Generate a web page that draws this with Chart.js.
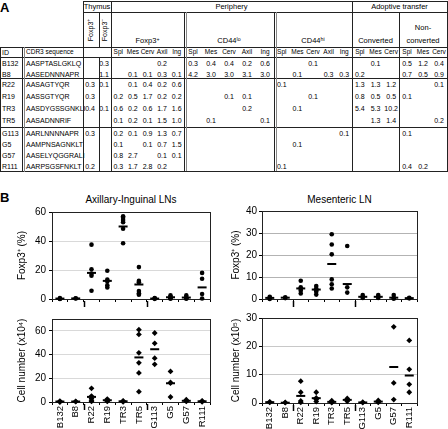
<!DOCTYPE html>
<html><head><meta charset="utf-8">
<script src="https://cdn.jsdelivr.net/npm/chart.js@4.4.1/dist/chart.umd.min.js"></script>
<style>
html,body{margin:0;padding:0;background:#fff;}
#root{position:relative;width:448px;height:429px;overflow:hidden;font-family:"Liberation Sans",Arial,Helvetica,sans-serif;color:#000;}
.t{position:absolute;white-space:nowrap;line-height:1;}
.t sup{font-size:0.7em;vertical-align:0.45em;line-height:0;}
.ln{position:absolute;background:#222;}
canvas{position:absolute;}
</style></head><body><div id="root"></div>
<script>
// ---------------- DATA ----------------
const clones = ['B132','B8','R22','R19','TR3','TR5','G113','G5','G57','R111'];
const cloneGroup = [1,1,2,2,2,2,3,3,3,3];
const cdr3 = ['AASPTASLGKLQ','AASEDNNNAPR','AASAGTYQR','AASSGTYQR','AASDYGSSGNKLI','AASADNNRIF','AARLNNNNAPR','AAMPNSAGNKLT','AASELYQGGRALI','AARPSGSFNKLT'];
const tissues5 = ['Spl','Mes','Cerv','Axil','Ing'];
const tissues3 = ['Spl','Mes','Cerv'];
const N = null;
const thymus = [[N,0.3],[N,1.1],[0.3,0.1],[0.3,N],[0.4,0.1],[N,N],[0.3,N],[N,N],[N,N],[0.2,N]];
const periphFoxp3 = [[N,N,N,0.2,N],[N,0.1,0.1,0.3,0.1],[N,0.1,0.4,0.2,0.6],[0.2,0.5,1.7,0.2,0.2],[0.6,0.2,0.6,1.7,1.6],[0.1,0.2,0.1,1.5,1.0],[0.2,0.1,0.9,1.3,0.7],[0.1,N,0.1,0.7,1.5],[0.8,2.7,N,0.1,0.1],[0.3,1.7,2.8,0.2,N]];
const periphCD44lo = [[0.3,0.4,0.4,0.2,0.6],[4.2,3.0,3.0,3.1,3.0],[N,N,N,N,N],[N,N,0.1,0.1,N],[N,N,N,0.2,N],[N,0.1,N,N,0.1],[N,N,N,N,N],[N,N,N,N,N],[N,N,N,N,N],[N,N,N,N,N]];
const periphCD44hi = [[N,N,0.1,N,N],[N,0.1,N,0.3,0.3],[0.1,N,N,N,N],[N,N,0.1,N,N],[N,0.1,N,N,N],[N,N,N,N,N],[N,N,N,N,0.1],[N,0.1,N,N,N],[N,N,N,N,N],[0.1,N,N,N,N]];
const converted = [[N,0.1,N],[0.2,N,N],[1.3,1.3,1.2],[0.8,0.5,0.5],[5.4,5.3,10.2],[N,1.3,1.4],[N,N,N],[N,N,N],[N,N,N],[N,N,N]];
const nonConverted = [[0.5,1.2,0.4],[0.7,0.5,0.9],[N,N,0.1],[0.1,N,N],[N,N,N],[N,N,0.2],[0.1,N,N],[N,N,N],[N,N,N],[0.4,0.2,N]];

// Panel B values (per clone)
const axFoxp3 = [[0.6,0.2,0],[0.5,0.3],[37.5,20.5,17.5,16,5.7],[19.5,13.5,12,9.5,8],[57,56,54.5,53,48.5,38.5],[22,12.5,11.5,5.5,4,3],[0.6,0.3,0.1],[2.5,1.5,0.5,0.2],[2.5,1.2,0.5,0.2],[18,14,3.5,0.3]];
const axFoxp3Mean = [0.3,0.4,18,12.5,50,10,0.3,1.2,1,8];
const axCells = [[0.8,0.3,0],[0.6,0.3],[11.5,5,3,1.5,0.5],[2.5,1.8,1,0.5],[1,0.5,0.2],[61,57,41.5,33,24.5,8.7],[58.2,49.5,37,31.8],[25.8,16.5,16,4.2],[2,1,0.5],[1,0.5,0.2]];
const axCellsMean = [0.4,0.4,4.3,1.5,0.6,37.6,44.5,15.8,1,0.6];
const mesFoxp3 = [[1,0.4,0],[0.8,0.4],[8.3,5.3,4.5,3.8,2.5],[5.9,4.8,4,3.3,2],[29.4,24.8,20.3,8.9,6.7,4.8],[24.1,5.3,2.9],[1.8,1,0.5],[1.8,1,0.5],[1.8,0.5,0.1],[0.6,0.3]];
const mesFoxp3Mean = [0.5,0.6,4.8,4.3,15.9,6.8,1,1,0.6,0.4];
const mesCells = [[0.4,0.2],[0.2,0.1],[7.7,3.8,0.7,0.2],[3.8,1.8,1.2,0.5],[0.8,0.3,0.1],[1.6,1.1,0.6],[0.3,0.1],[0.9,0.5,0.2],[26.9,7.1,1.2],[22.1,11.9,6.6,3.8]];
const mesCellsMean = [0.3,0.1,2.5,1.7,0.4,1.1,0.2,0.5,12.7,9.7];

// ---------------- PANEL A (table) ----------------
const root = document.getElementById('root');
function txt(x, y, html, opt = {}) {
  const d = document.createElement('div');
  d.className = 't';
  d.innerHTML = html;
  d.style.left = x + 'px';
  d.style.top = y + 'px';
  d.style.fontSize = (opt.size || 7) + 'px';
  if (opt.bold) d.style.fontWeight = 'bold';
  const tx = opt.align === 'left' ? '0' : '-50%';
  d.style.transform = `translate(${tx},-50%)` + (opt.rot ? ' rotate(-90deg)' : '');
  root.appendChild(d);
}
function line(x, y, w, h, c) {
  const d = document.createElement('div');
  d.className = 'ln';
  d.style.left = x + 'px'; d.style.top = y + 'px';
  d.style.width = w + 'px'; d.style.height = h + 'px';
  if (c) d.style.background = c;
  root.appendChild(d);
}
function split(a, b, n) { const w = (b - a) / n; return Array.from({length: n}, (_, i) => a + w * (i + 0.5)); }

const X = {L: 0, id: 22, thy: 83, thyMid: 99, per: 111, lo: 184, hi: 274, ad: 352, non: 399, R: 447};
const colThy = split(X.thy, X.per, 2);
const colPF = split(X.per, X.lo, 5);
const colLo = split(X.lo, X.hi, 5);
const colHi = split(X.hi, X.ad, 5);
const colConv = split(X.ad, X.non, 3);
const colNon = split(X.non, X.R, 3);

txt(0, 7, 'A', {align: 'left', size: 13, bold: true});
txt((X.thy + X.per) / 2, 6.5, 'Thymus', {size: 7.5});
txt((X.per + X.ad) / 2, 6.5, 'Periphery', {size: 7.5});
txt((X.ad + X.R) / 2, 6.5, 'Adoptive transfer', {size: 7.5});
txt(colThy[0], 30, 'Foxp3<sup>+</sup>', {rot: true});
txt(colThy[1], 30, 'Foxp3<sup>−</sup>', {rot: true});
txt((X.per + X.lo) / 2, 41, 'Foxp3<sup>+</sup>', {size: 7.5});
txt((X.lo + X.hi) / 2, 41, 'CD44<sup>lo</sup>', {size: 7.5});
txt((X.hi + X.ad) / 2, 41, 'CD44<sup>hi</sup>', {size: 7.5});
txt((X.ad + X.non) / 2, 41, 'Converted', {size: 7.5});
txt((X.non + X.R) / 2, 28, 'Non-', {size: 7.5});
txt((X.non + X.R) / 2, 41, 'converted', {size: 7.5});
txt(2, 52, 'ID', {align: 'left'});
txt(26, 52, 'CDR3 sequence', {align: 'left', size: 6.5});
[[colPF, tissues5], [colLo, tissues5], [colHi, tissues5], [colConv, tissues3], [colNon, tissues3]].forEach(([cols, names]) => {
  cols.forEach((cx, i) => txt(cx, 52, names[i], {size: 6.5}));
});

// row centres
const rowY = [];
(function () {
  const groupsTop = {1: 57, 2: 78, 3: 127};
  const groupStep = {1: 11, 2: 12, 3: 11};
  const count = {};
  cloneGroup.forEach((g) => {
    count[g] = (count[g] || 0);
    rowY.push(groupsTop[g] + 5.5 + count[g] * groupStep[g]);
    count[g]++;
  });
})();
const fmt = (v) => (v === null ? '' : v.toFixed(1));
clones.forEach((id, r) => {
  const y = rowY[r];
  txt(2, y, id, {align: 'left'});
  txt(26, y, cdr3[r], {align: 'left'});
  const blocks = [[colThy, thymus], [colPF, periphFoxp3], [colLo, periphCD44lo], [colHi, periphCD44hi], [colConv, converted], [colNon, nonConverted]];
  blocks.forEach(([cols, arr]) => {
    arr[r].forEach((v, i) => { if (v !== null) txt(cols[i], y, fmt(v)); });
  });
});

// table rules
const TB = 171;
line(X.thy, 1, X.R - X.thy + 1, 1);
line(X.thy, 12, X.R - X.thy + 1, 1);
line(X.L, 47, X.R - X.L + 1, 1);
line(X.L, 57, X.R - X.L + 1, 1);
line(X.L, 77.5, X.R - X.L + 1, 1.5);
line(X.L, 126.5, X.R - X.L + 1, 1.5);
line(X.L, TB, X.R - X.L + 1, 1);
line(X.L, 47, 1, TB - 47 + 1);
line(X.id, 47, 1, TB - 47 + 1); line(X.id + 2, 47, 1, TB - 47 + 1, '#888');
line(X.thy, 1, 1, TB);
line(X.thyMid, 12, 1, 35);
line(X.thyMid, 57, 1, TB - 57);
line(X.per, 1, 1, TB);
line(X.lo, 12, 1, TB - 12); line(X.lo + 2, 12, 1, TB - 12, '#888');
line(X.hi, 12, 1, TB - 12); line(X.hi + 2, 12, 1, TB - 12, '#888');
line(X.ad, 1, 1, TB);
line(X.non, 12, 1, TB - 12);
line(X.R, 1, 1, TB);

// ---------------- PANEL B (charts) ----------------
txt(0, 197, 'B', {align: 'left', size: 13, bold: true});
txt(131, 200, 'Axillary-Inguinal LNs', {size: 10});
txt(339.5, 200, 'Mesenteric LN', {size: 10});

const groupBreaks = [];
for (let i = 1; i < cloneGroup.length; i++) if (cloneGroup[i] !== cloneGroup[i - 1]) groupBreaks.push(i - 0.5);

const framePlugin = {
  id: 'frame',
  beforeDatasetsDraw(chart) {
    const {ctx, chartArea: a, scales: {x}} = chart;
    ctx.save();
    ctx.strokeStyle = '#222';
    ctx.lineWidth = 1;
    ctx.strokeRect(Math.round(a.left) + 0.5, Math.round(a.top) + 0.5, Math.round(a.right - a.left), Math.round(a.bottom - a.top));
    ctx.strokeStyle = '#000';
    ctx.lineWidth = 1.5;
    groupBreaks.forEach((b) => {
      const px = Math.round(x.getPixelForValue(b)) + 0.5;
      ctx.beginPath();
      ctx.moveTo(px, a.bottom + 2);
      ctx.lineTo(px, a.bottom + 8);
      ctx.stroke();
    });
    ctx.restore();
  }
};

function makeChart(cfg) {
  const c = document.createElement('canvas');
  c.width = cfg.w; c.height = cfg.h;
  c.style.left = cfg.left + 'px'; c.style.top = cfg.top + 'px';
  c.style.width = cfg.w + 'px'; c.style.height = cfg.h + 'px';
  root.appendChild(c);
  const pts = [];
  cfg.values.forEach((arr, i) => arr.forEach((v) => pts.push({x: clones[i], y: v})));
  const means = cfg.means.map((v, i) => ({x: clones[i], y: v}));
  new Chart(c, {
    type: 'line',
    data: {
      labels: clones,
      datasets: [
        {data: pts, showLine: false, pointStyle: cfg.marker, pointRadius: cfg.marker === 'circle' ? 2.3 : 2.9,
         backgroundColor: '#000', borderColor: '#000', borderWidth: 0, clip: false},
        {data: means, showLine: false, pointStyle: 'line', pointRadius: 4.5, borderColor: '#000', borderWidth: 2, clip: false}
      ]
    },
    options: {
      responsive: false, animation: false, devicePixelRatio: 1,
      layout: {autoPadding: false, padding: {top: cfg.padTop, right: cfg.padRight, bottom: 0, left: 0}},
      plugins: {legend: {display: false}, tooltip: {enabled: false}},
      scales: {
        x: {
          type: 'category', offset: true,
          grid: {display: true, drawOnChartArea: false, drawTicks: true, tickLength: 3, offset: true, color: '#000'},
          border: {display: true, color: '#000', width: 1},
          ticks: {display: cfg.xLabels, minRotation: 90, maxRotation: 90, autoSkip: false, padding: 1, color: '#000',
                  font: {family: '"Liberation Sans", Arial, sans-serif', size: 9.5}},
          afterFit(s) { s.height = cfg.xh; }
        },
        y: {
          min: 0, max: cfg.max,
          ticks: {stepSize: cfg.step, color: '#000', padding: cfg.tickPad, font: {family: '"Liberation Sans", Arial, sans-serif', size: 10}},
          afterBuildTicks(s) { s.ticks = s.ticks.filter((t) => Math.abs(t.value / cfg.step - Math.round(t.value / cfg.step)) < 1e-6); },
          grid: {color: cfg.gridColor, tickColor: '#000', tickLength: 3},
          border: {display: true, color: '#000', width: 1},
          title: {display: true, text: cfg.title, color: '#000', padding: {top: cfg.titlePad, bottom: 0},
                  font: {family: '"Liberation Sans", Arial, sans-serif', size: 10}},
          afterFit(s) { s.width = cfg.yw; }
        }
      }
    },
    plugins: [framePlugin]
  });
}

makeChart({left: 0, top: 203, w: 216, h: 110, padTop: 8, padRight: 6, xh: 14, yw: 52, max: 60, step: 20, tickPad: 3,
  values: axFoxp3, means: axFoxp3Mean, marker: 'circle', xLabels: false, gridColor: '#d9d9d9', title: 'Foxp3⁺ (%)', titlePad: 16});
makeChart({left: 0, top: 310, w: 216, h: 119, padTop: 3, padRight: 6, xh: 27, yw: 52, max: 70, step: 20, tickPad: 3,
  values: axCells, means: axCellsMean, marker: 'rectRot', xLabels: true, gridColor: '#d9d9d9', title: 'Cell number (x10⁴)', titlePad: 16});
makeChart({left: 224, top: 203, w: 224, h: 110, padTop: 8, padRight: 31, xh: 14, yw: 38, max: 40, step: 10, tickPad: 2,
  values: mesFoxp3, means: mesFoxp3Mean, marker: 'circle', xLabels: false, gridColor: '#b3b3b3', title: 'Foxp3⁺ (%)', titlePad: 6});
makeChart({left: 224, top: 310, w: 224, h: 119, padTop: 3, padRight: 31, xh: 26, yw: 38, max: 30, step: 10, tickPad: 2,
  values: mesCells, means: mesCellsMean, marker: 'rectRot', xLabels: true, gridColor: '#c8c8c8', title: 'Cell number (x10⁵)', titlePad: 6});
</script>
</body></html>
